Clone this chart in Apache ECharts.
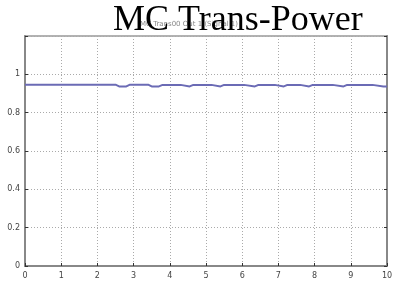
<!DOCTYPE html>
<html>
<head>
<meta charset="utf-8">
<script src="https://cdn.jsdelivr.net/npm/echarts@6/dist/echarts.min.js"></script>
<style>
html,body{margin:0;padding:0;background:#fff;}
#main{width:399px;height:283px;}
</style>
</head>
<body>
<div id="main"></div>
<script>
var chart = echarts.init(document.getElementById('main'));

// 时间与信号值
var times = [0, 2.5, 2.6, 2.8, 2.9, 3.4, 3.5, 3.7, 3.8, 4.3, 4.35, 4.55, 4.65, 5.15, 5.2, 5.4, 5.5,
  6.05, 6.1, 6.35, 6.45, 6.9, 6.95, 7.15, 7.25, 7.6, 7.65, 7.85, 7.95, 8.5, 8.55, 8.8, 8.9, 9.6, 9.65, 9.9, 10];
var values = [0.946, 0.946, 0.937, 0.937, 0.946, 0.946, 0.937, 0.937, 0.945, 0.945, 0.937, 0.937, 0.945,
  0.945, 0.937, 0.937, 0.945, 0.945, 0.937, 0.937, 0.945, 0.945, 0.937, 0.937, 0.945, 0.945, 0.937, 0.937,
  0.945, 0.945, 0.937, 0.937, 0.945, 0.945, 0.937, 0.937, 0.937];
var yTicks = [0, 0.2, 0.4, 0.6, 0.8, 1];

var points = times.map(function (t, i) { return [t, values[i]]; });

var option = {
  backgroundColor: '#fff',
  animation: false,
  title: [
    {
      text: 'MC Trans00 Out 1 (Signal 1)',
      left: 140, top: 21, padding: 0,
      textStyle: { fontFamily: 'DejaVu Sans', fontSize: 7, fontWeight: 'normal', color: '#888' }
    },
    {
      text: 'MC Trans-Power',
      left: 113, top: 3, padding: 0,
      textStyle: { fontFamily: 'Liberation Serif', fontSize: 36, fontWeight: 'normal', color: '#000' }
    }
  ],
  grid: {
    left: 25, right: 12, top: 36, bottom: 17,
    show: true, borderColor: '#999', borderWidth: 1.5,
    containLabel: false
  },
  xAxis: {
    type: 'value', min: 0, max: 10, interval: 1,
    axisLine: { lineStyle: { color: '#888', width: 2 } },
    axisTick: { inside: true, length: 3, lineStyle: { color: '#333' } },
    axisLabel: { fontSize: 8, color: '#444', margin: 6, fontFamily: 'DejaVu Sans' },
    splitLine: { show: true, lineStyle: { color: '#aaa', type: [1, 2], width: 1 } }
  },
  yAxis: [
    {
      type: 'value', min: 0, max: 1.2, interval: 0.2,
      axisLine: { show: true, lineStyle: { color: '#888', width: 2 } },
      axisTick: { show: true, inside: true, length: 3, lineStyle: { color: '#333' } },
      axisLabel: {
        fontSize: 8, color: '#444', margin: 5, fontFamily: 'DejaVu Sans',
        formatter: function (v) {
          var r = Math.round(v * 10) / 10;
          return yTicks.indexOf(r) >= 0 ? String(r) : '';
        }
      },
      splitLine: { show: true, lineStyle: { color: '#aaa', type: [1, 2], width: 1 } }
    },
    {
      type: 'value', min: 0, max: 1.2, interval: 0.2, position: 'right',
      axisLine: { show: true, lineStyle: { color: '#888', width: 2 } },
      axisTick: { show: true, inside: true, length: 3, lineStyle: { color: '#333' } },
      axisLabel: { show: false },
      splitLine: { show: false }
    }
  ],
  series: [
    {
      type: 'line',
      data: points,
      showSymbol: false,
      lineStyle: { color: '#6b6bb5', width: 2 }
    }
  ]
};

chart.setOption(option);
</script>
</body>
</html>
